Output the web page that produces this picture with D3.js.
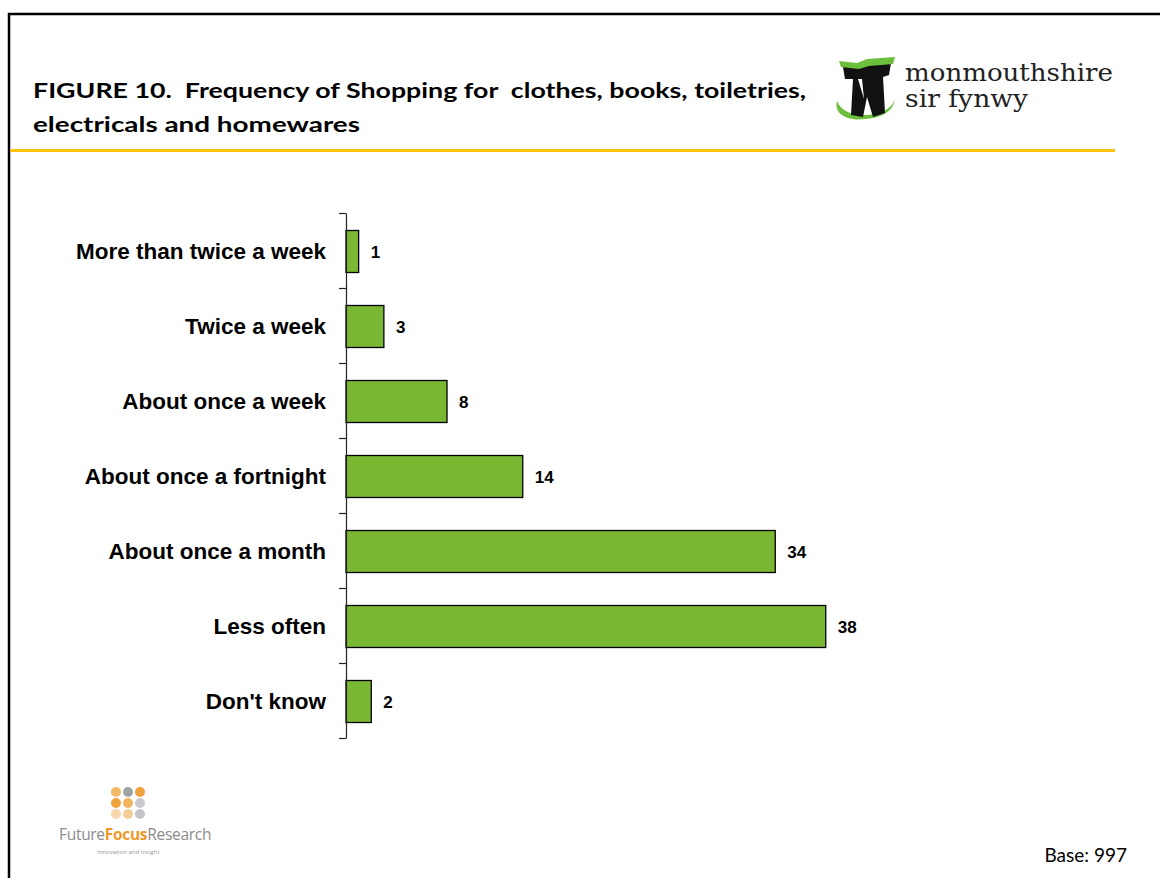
<!DOCTYPE html>
<html>
<head>
<meta charset="utf-8">
<script src="https://cdn.jsdelivr.net/npm/d3@7"></script>
<style>
body{margin:0;background:#fff;}
svg{display:block;}
text{white-space:pre;}
</style>
</head>
<body>
<svg id="chart" width="1160" height="878"></svg>
<script>
var categories = ["More than twice a week","Twice a week","About once a week","About once a fortnight","About once a month","Less often","Don't know"];
var values = [1,3,8,14,34,38,2];
var titleLines = ["FIGURE 10.  Frequency of Shopping for  clothes, books, toiletries,","electricals and homewares"];
var baseText = "Base: 997";

var svg = d3.select("#chart");

// frame
svg.append("path")
	.attr("d","M9,878 V14 H1160")
	.attr("fill","none")
	.attr("stroke","#000")
	.attr("stroke-width",2.5);

// title
svg.selectAll(".title")
	.data(titleLines)
	.enter()
	.append("text")
	.attr("class","title")
	.attr("x",33)
	.attr("y",function(d,i){return 98+i*34})
	.attr("font-family","Lato, 'Open Sans', sans-serif")
	.attr("font-weight","bold")
	.attr("font-size","21.5px")
	.attr("fill","#000")
	.attr("textLength",function(d,i){return i==0?773:327})
	.attr("lengthAdjust","spacingAndGlyphs")
	.text(function(d){return d;});

// yellow rule
svg.append("rect")
	.attr("x",10).attr("y",149)
	.attr("width",1105).attr("height",3)
	.attr("fill","#ffc20e");

// monmouthshire logo
var logo = svg.append("g").attr("transform","translate(833,55)");
logo.append("path")
	.attr("d","M4,46 C0,62 20,66 32,64 C46,63 60,58 62,44 C58,56 44,60 32,60 C18,60 8,56 4,46 Z")
	.attr("fill","#6cbf3c");
logo.append("path")
	.attr("d","M10,12 L58,8 L56,20 L50,22 L52,58 L40,62 L34,42 L30,62 L18,60 L20,24 L12,24 Z")
	.attr("fill","#111");
logo.append("path")
	.attr("d","M6,6 L24,8 L34,4 L62,2 L60,9 L36,11 L26,14 L8,12 Z")
	.attr("fill","#6cbf3c");
logo.append("path")
	.attr("d","M25,24 L31,44 L29,24 Z")
	.attr("fill","#fff");
svg.append("text")
	.attr("x",905).attr("y",81)
	.attr("font-family","'DejaVu Serif', 'Liberation Serif', serif")
	.attr("font-size","24px")
	.attr("fill","#222")
	.attr("textLength",208)
	.attr("lengthAdjust","spacingAndGlyphs")
	.text("monmouthshire");
svg.append("text")
	.attr("x",905).attr("y",107)
	.attr("font-family","'DejaVu Serif', 'Liberation Serif', serif")
	.attr("font-size","24px")
	.attr("fill","#222")
	.attr("textLength",123)
	.attr("lengthAdjust","spacingAndGlyphs")
	.text("sir fynwy");

// chart
var yScale = d3.scaleBand()
	.domain(categories)
	.range([213,738])
	.paddingInner(0.44)
	.paddingOuter(0.22);
var xScale = d3.scaleLinear()
	.domain([0,40])
	.range([346,851]);

svg.selectAll(".bar")
	.data(values)
	.enter()
	.append("rect")
	.attr("class","bar")
	.attr("x",xScale(0))
	.attr("y",function(d,i){return yScale(categories[i])+1})
	.attr("width",function(d){return xScale(d)-xScale(0)})
	.attr("height",yScale.bandwidth())
	.attr("fill","#7ab833")
	.attr("stroke","#000")
	.attr("stroke-width",1.3);

svg.selectAll(".val")
	.data(values)
	.enter()
	.append("text")
	.attr("class","val")
	.attr("x",function(d){return xScale(d)+12})
	.attr("y",function(d,i){return yScale(categories[i])+yScale.bandwidth()/2+7})
	.attr("font-family","'Liberation Sans', Arial, sans-serif")
	.attr("font-weight","bold")
	.attr("font-size","17px")
	.text(function(d){return d;});

// axis with ticks between categories
var tickScale = d3.scaleLinear().domain([0,categories.length]).range([213,738]);
var yAxis = d3.axisLeft(tickScale)
	.tickValues(d3.range(categories.length+1))
	.tickSize(7)
	.tickSizeOuter(0)
	.tickFormat("");
svg.append("g")
	.attr("transform","translate(346,0)")
	.call(yAxis)
	.call(function(g){g.selectAll("line,path").attr("stroke","#222").attr("stroke-width",1.2);});

svg.selectAll(".cat")
	.data(categories)
	.enter()
	.append("text")
	.attr("class","cat")
	.attr("x",326)
	.attr("y",function(d){return yScale(d)+yScale.bandwidth()/2+8})
	.attr("text-anchor","end")
	.attr("font-family","'Liberation Sans', Arial, sans-serif")
	.attr("font-weight","bold")
	.attr("font-size","22.5px")
	.text(function(d){return d;});

// future focus logo
var dotColors = ["#f5b969","#a0a3a6","#f0a23c","#f0a23c","#f2b45c","#c7c9cc","#f8d7ad","#f4cc98","#c2c4c7"];
svg.selectAll(".dot")
	.data(dotColors)
	.enter()
	.append("circle")
	.attr("class","dot")
	.attr("cx",function(d,i){return 116+(i%3)*12})
	.attr("cy",function(d,i){return 792+Math.floor(i/3)*11})
	.attr("r",5)
	.attr("fill",function(d){return d;});
var ff = svg.append("text")
	.attr("x",59).attr("y",840)
	.attr("font-family","'Open Sans', sans-serif")
	.attr("font-size","15.5px")
	.attr("letter-spacing","-0.3px")
	.attr("fill","#8c8c8c");
ff.append("tspan").text("Future");
ff.append("tspan").attr("fill","#ee9a2a").attr("font-weight","bold").text("Focus");
ff.append("tspan").text("Research");
svg.append("text")
	.attr("x",97).attr("y",854)
	.attr("font-family","'Open Sans', sans-serif")
	.attr("font-size","6px")
	.attr("fill","#999")
	.text("Innovation and Insight");

svg.append("text")
	.attr("x",1127).attr("y",862)
	.attr("text-anchor","end")
	.attr("font-family","Lato, 'Open Sans', sans-serif")
	.attr("font-size","19px")
	.attr("fill","#000")
	.text(baseText);
</script>
</body>
</html>
